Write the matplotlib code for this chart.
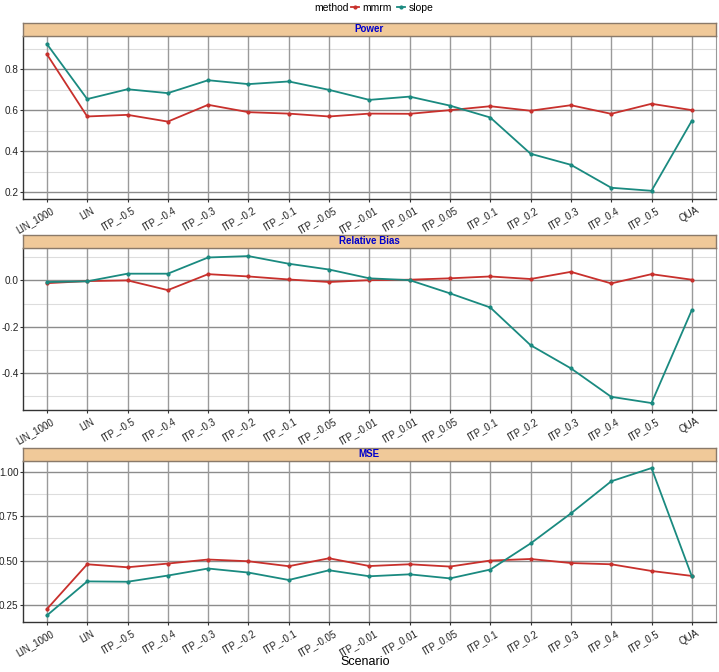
import numpy as np
import matplotlib
matplotlib.use("Agg")
import matplotlib.pyplot as plt
import matplotlib.transforms as mtrans
from matplotlib.lines import Line2D

plt.rcParams['font.family'] = ['Liberation Sans', 'DejaVu Sans']

# scenarios on the x axis
scenarios = ['LIN_1000', 'LIN', 'ITP_-0.5', 'ITP_-0.4', 'ITP_-0.3', 'ITP_-0.2',
             'ITP_-0.1', 'ITP_-0.05', 'ITP_-0.01', 'ITP_0.01', 'ITP_0.05',
             'ITP_0.1', 'ITP_0.2', 'ITP_0.3', 'ITP_0.4', 'ITP_0.5', 'QUA']

# values
power_mmrm = [0.873, 0.569, 0.577, 0.544, 0.626, 0.590, 0.583, 0.569, 0.583,
              0.582, 0.600, 0.619, 0.597, 0.624, 0.582, 0.631, 0.600]
power_slope = [0.923, 0.654, 0.702, 0.683, 0.746, 0.727, 0.740, 0.699, 0.650,
               0.666, 0.622, 0.564, 0.387, 0.333, 0.221, 0.206, 0.548]

bias_mmrm = [-0.012, -0.003, 0.000, -0.042, 0.027, 0.017, 0.004, -0.007, 0.001,
             0.003, 0.009, 0.017, 0.006, 0.037, -0.013, 0.027, 0.003]
bias_slope = [-0.007, -0.004, 0.029, 0.029, 0.099, 0.105, 0.072, 0.047, 0.009,
              0.001, -0.056, -0.117, -0.280, -0.380, -0.503, -0.530, -0.128]

mse_mmrm = [0.225, 0.479, 0.462, 0.483, 0.506, 0.496, 0.468, 0.513, 0.469,
            0.479, 0.466, 0.500, 0.509, 0.486, 0.479, 0.441, 0.413]
mse_slope = [0.189, 0.382, 0.380, 0.415, 0.455, 0.432, 0.390, 0.445, 0.411,
             0.422, 0.399, 0.449, 0.597, 0.767, 0.949, 1.024, 0.411]

col_mmrm = '#C8302C'
col_slope = '#1A8A80'
strip_fill = '#F0C999'

panels = [
    ('Power', power_mmrm, power_slope, (0.166, 0.962),
     [0.2, 0.4, 0.6, 0.8], ['0.2', '0.4', '0.6', '0.8'], [0.3, 0.5, 0.7, 0.9]),
    ('Relative Bias', bias_mmrm, bias_slope, (-0.56, 0.14),
     [-0.4, -0.2, 0.0], ['-0.4', '-0.2', '0.0'], [-0.5, -0.3, -0.1, 0.1]),
    ('MSE', mse_mmrm, mse_slope, (0.152, 1.064),
     [0.25, 0.5, 0.75, 1.0], ['0.25', '0.50', '0.75', '1.00'], [0.375, 0.625, 0.875]),
]

# axes boxes in pixels (top, bottom) of plot area, strip height
W, H = 719, 672
boxes = [(36, 199), (248, 410), (461, 622)]
strip_h = 13.5
left_px, right_px = 22.7, 716

fig = plt.figure(figsize=(W / 100, H / 100), dpi=100)
x = np.arange(len(scenarios))
shift = mtrans.ScaledTranslation(4 / 100, 0, fig.dpi_scale_trans)

for (title, m, s, ylim, yt, ytl, ymin), (top, bot) in zip(panels, boxes):
    ax = fig.add_axes([left_px / W, 1 - bot / H, (right_px - left_px) / W, (bot - top) / H])
    for v in ymin:
        ax.axhline(v, color='#DDDDDD', lw=0.8, zorder=0)
    for v in yt:
        ax.axhline(v, color='#8C8C8C', lw=1.0, zorder=0)
    for xi in x:
        ax.axvline(xi, color='#9A9A9A', lw=1.0, zorder=0)
    ax.plot(x, m, color=col_mmrm, lw=1.3, marker='o', ms=2, zorder=3)
    ax.plot(x, s, color=col_slope, lw=1.3, marker='o', ms=2, zorder=3)
    ax.set_xlim(-0.6, 16.6)
    ax.set_ylim(*ylim)
    ax.set_yticks(yt)
    ax.set_yticklabels(ytl)
    ax.set_xticks(x)
    ax.set_xticklabels(scenarios, rotation=30, ha='right', rotation_mode='anchor')
    ax.tick_params(axis='y', labelsize=7.2, length=2, color='#333333', labelcolor='#222222', pad=1)
    ax.tick_params(axis='x', labelsize=7, length=2.5, color='#333333', labelcolor='#222222', pad=2)
    for lbl in ax.get_xticklabels():
        lbl.set_transform(lbl.get_transform() + shift)
    for side in ['left', 'bottom']:
        ax.spines[side].set_color('#333333')
        ax.spines[side].set_linewidth(1.0)
    for side in ['top', 'right']:
        ax.spines[side].set_color('#999999')
        ax.spines[side].set_linewidth(0.8)

    sax = fig.add_axes([left_px / W, 1 - top / H, (right_px - left_px) / W, strip_h / H])
    sax.set_facecolor(strip_fill)
    sax.set_xticks([])
    sax.set_yticks([])
    for sp in sax.spines.values():
        sp.set_color('#8A7A6A')
        sp.set_linewidth(1.0)
    sax.text(0.5, 0.5, title, ha='center', va='center', color='#0000CC',
             fontsize=7, fontweight='bold', transform=sax.transAxes)

fig.text(365 / W, 1 - 662 / H, 'Scenario', ha='center', va='center', fontsize=9)

# legend at the top
handles = [Line2D([0], [0], color=col_mmrm, lw=1.3, marker='o', ms=2),
           Line2D([0], [0], color=col_slope, lw=1.3, marker='o', ms=2)]
fig.text(349 / W, 1 - 8 / H, 'method', ha='right', va='center', fontsize=7.5)
fig.legend(handles, ['mmrm', 'slope'], loc='center left', bbox_to_anchor=(351 / W, 1 - 8 / H),
           ncol=2, frameon=False, fontsize=7.5, handlelength=0.8, handletextpad=0.3,
           columnspacing=0.5, borderpad=0, borderaxespad=0)

fig.savefig('out.png', dpi=100)
